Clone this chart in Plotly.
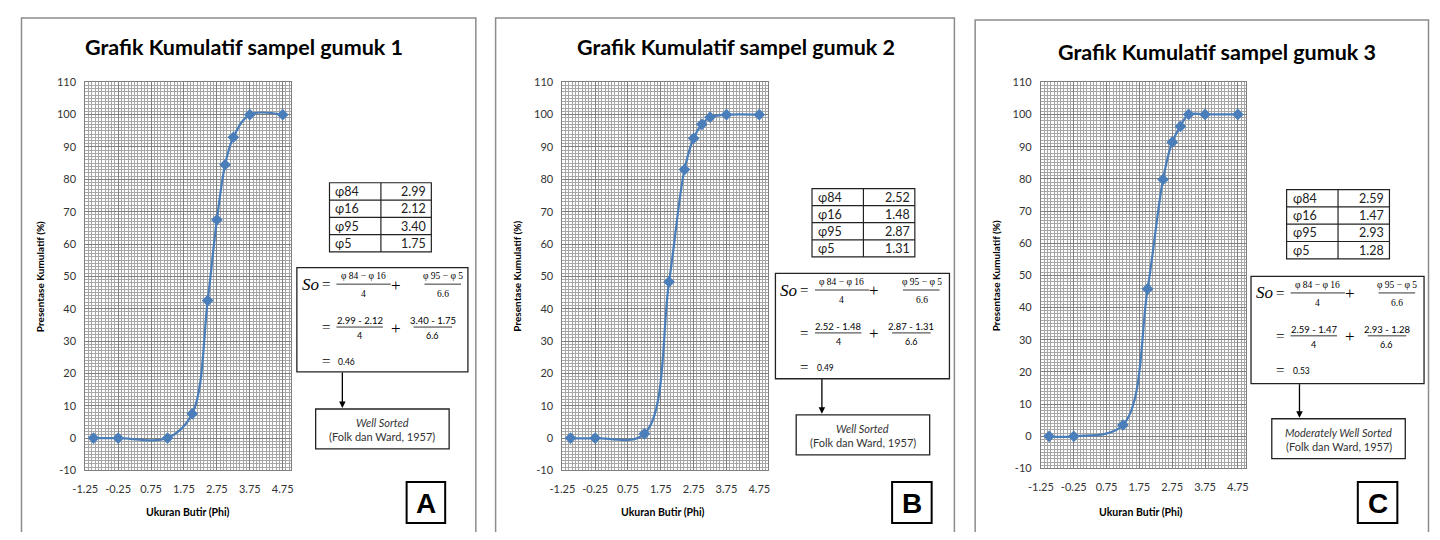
import plotly.graph_objects as go

# ---------------- data ----------------
phi = [-1.0, -0.25, 1.25, 2.0, 2.47, 2.75, 3.0, 3.25, 3.75, 4.75]
cum_1 = [0, 0, 0, 7.5, 42.5, 67.5, 84.5, 93.0, 100, 100]
cum_2 = [0, 0, 1.3, 48.3, 83.0, 92.7, 97.0, 99.2, 100, 100]
cum_3 = [0, 0, 3.5, 45.8, 79.8, 91.4, 96.3, 100, 100, 100]
series = [cum_1, cum_2, cum_3]

titles = ["Grafik Kumulatif sampel gumuk 1",
          "Grafik Kumulatif sampel gumuk 2",
          "Grafik Kumulatif sampel gumuk 3"]
x_ticks = [-1.25, -0.25, 0.75, 1.75, 2.75, 3.75, 4.75]
y_ticks = [-10, 0, 10, 20, 30, 40, 50, 60, 70, 80, 90, 100, 110]
x_title = "Ukuran Butir (Phi)"
y_title = "Presentase Kumulatif (%)"

param_labels = ["ɸ84", "ɸ16", "ɸ95", "ɸ5"]
params_1 = [2.99, 2.12, 3.40, 1.75]
params_2 = [2.52, 1.48, 2.87, 1.31]
params_3 = [2.59, 1.47, 2.93, 1.28]
params = [params_1, params_2, params_3]
so_values = [0.46, 0.49, 0.53]
sorting = ["Well Sorted", "Well Sorted", "Moderately Well Sorted"]
reference = "(Folk dan Ward, 1957)"
letters = ["A", "B", "C"]

# ---------------- layout geometry (page pixels) ----------------
# page is 1440x540; the figure sits inside the default 8px body margin
OFF = 8
W, H = 1440 - 2 * OFF, 540 - 2 * OFF
def X(p):
    return (p - OFF) / W
def Y(p):
    return 1 - (p - OFF) / H

geom = [
    dict(border=(8.5, 11, 468), title=(234, 41), plot=(73, 281, 77, 475), ytx=28, xt=(177, 518),
         table=(320, 180, 423, 251, 372), fbox=(287, 267, 460, 374), arrow=(333, 374, 411),
         sbox=(306, 412, 441, 453), lbox=(398, 487, 437, 529)),
    dict(border=(488, 11, 952), title=(731, 41), plot=(555.5, 763, 77, 475), ytx=510, xt=(657, 518),
         table=(808, 186, 912, 256, 860), fbox=(771, 273, 947, 381), arrow=(818, 381, 417),
         sbox=(792, 418, 927, 459), lbox=(889, 487, 929, 529)),
    dict(border=(973, 13, 1431.5), title=(1218, 46), plot=(1039.5, 1247, 77, 473), ytx=994, xt=(1141, 518),
         table=(1288, 187, 1392, 258, 1340), fbox=(1252, 276, 1427, 386), arrow=(1301, 386, 421),
         sbox=(1273, 422, 1408, 463), lbox=(1360, 487, 1400, 529)),
]

BLUE = "#4A7EBB"
MAJ = "#7f7f7f"
MIN = "#a6a6a6"
FONT = "Lato"
SERIF = "Liberation Serif"

fig = go.Figure()
shapes = []
anns = []

def ann(x, y, text, size, family=FONT, xanchor="center", yanchor="middle", color="black", angle=0):
    anns.append(dict(x=X(x), y=Y(y), xref="paper", yref="paper", text=text, showarrow=False,
                     xanchor=xanchor, yanchor=yanchor, textangle=angle,
                     font=dict(family=family, size=size, color=color)))

def rect(x0, y0, x1, y1, color="black", width=1):
    shapes.append(dict(type="rect", xref="paper", yref="paper", x0=X(x0), x1=X(x1), y0=Y(y1), y1=Y(y0),
                       line=dict(color=color, width=width), fillcolor="rgba(0,0,0,0)", layer="above"))

def hline(x0, x1, y, color="black", width=1):
    shapes.append(dict(type="line", xref="paper", yref="paper", x0=X(x0), x1=X(x1), y0=Y(y), y1=Y(y),
                       line=dict(color=color, width=width), layer="above"))

def vline(x, y0, y1, color="black", width=1):
    shapes.append(dict(type="line", xref="paper", yref="paper", x0=X(x), x1=X(x), y0=Y(y0), y1=Y(y1),
                       line=dict(color=color, width=width), layer="above"))

layout_axes = {}
for i in range(3):
    g = geom[i]
    suf = "" if i == 0 else str(i + 1)
    fig.add_trace(go.Scatter(
        x=phi, y=series[i], mode="lines+markers",
        line=dict(shape="spline", smoothing=1.0, color=BLUE, width=2.25),
        marker=dict(symbol="diamond", size=9, color=BLUE),
        xaxis="x" + suf, yaxis="y" + suf, showlegend=False, cliponaxis=False,
        hoverinfo="x+y"))
    px0, px1, py0, py1 = g["plot"]
    layout_axes["xaxis" + suf] = dict(
        domain=[X(px0), X(px1)], range=[-1.25, 5.0], anchor="y" + suf,
        tickmode="array", tickvals=x_ticks, ticktext=["%.2f" % v for v in x_ticks],
        showgrid=True, gridcolor=MAJ, gridwidth=1,
        minor=dict(tick0=-1.25, dtick=0.1, showgrid=True, gridcolor=MIN, gridwidth=1),
        showline=True, linecolor=MAJ, linewidth=1, mirror=True, zeroline=False,
        ticks="", ticklabelstandoff=8,
        tickfont=dict(family=FONT, size=11, color="#333333"), fixedrange=True)
    layout_axes["yaxis" + suf] = dict(
        domain=[Y(py1), Y(py0)], range=[-10, 110], anchor="x" + suf,
        tickmode="array", tickvals=y_ticks, ticktext=[str(v) for v in y_ticks],
        showgrid=True, gridcolor=MAJ, gridwidth=1,
        minor=dict(tick0=0, dtick=1, showgrid=True, gridcolor=MIN, gridwidth=1),
        showline=True, linecolor=MAJ, linewidth=1, mirror=True, zeroline=False,
        ticks="", ticklabelstandoff=6,
        tickfont=dict(family=FONT, size=11, color="#333333"), fixedrange=True)

    # panel border
    bx0, by0, bx1 = g["border"]
    shapes.append(dict(type="rect", xref="paper", yref="paper", x0=X(bx0), x1=X(bx1), y0=Y(560), y1=Y(by0),
                       line=dict(color="#8c8c8c", width=1.5), fillcolor="rgba(0,0,0,0)", layer="below"))
    # title
    ann(g["title"][0], g["title"][1], "<b>%s</b>" % titles[i], 21.5)
    # axis titles
    ann(g["ytx"], (py0 + py1) / 2, "<b>%s</b>" % y_title, 10, angle=-90)
    ann(g["xt"][0], g["xt"][1], "<b>%s</b>" % x_title, 10.5)

    # parameter table
    tx0, ty0, tx1, ty1, tdx = g["table"]
    rect(tx0, ty0, tx1, ty1, color="#222222", width=1.2)
    vline(tdx, ty0, ty1, color="#222222", width=1.2)
    rh = (ty1 - ty0) / 4
    for r in range(4):
        if r > 0:
            hline(tx0, tx1, ty0 + r * rh, color="#222222", width=1.2)
        cy = ty0 + (r + 0.5) * rh
        ann(tx0 + 4, cy, param_labels[r], 12.5, xanchor="left", color="#222222")
        ann(tx1 - 3, cy, "%.2f" % params[i][r], 12.5, xanchor="right", color="#222222")

    # formula box
    bl, bt, br, bb = g["fbox"]
    rect(bl, bt, br, bb, color="#222222", width=1.3)
    p84, p16, p95, p5 = params[i]
    r1 = bt + 17
    ann(bl + 3, r1, "<i>So</i>", 17, family=SERIF, xanchor="left")
    ann(bl + 29, r1, "=", 15, family=SERIF)
    ann(bl + 67, r1 - 8, "φ 84 − φ 16", 9.5, family=SERIF)
    hline(bl + 40, bl + 95, r1, width=0.8)
    ann(bl + 67, r1 + 10, "4", 9.5, family=SERIF)
    ann(bl + 100, r1 + 1, "+", 17, family=SERIF)
    ann(bl + 148, r1 - 8, "φ 95 − φ 5", 9.5, family=SERIF)
    hline(bl + 129, bl + 166, r1, width=0.8)
    ann(bl + 148, r1 + 10, "6.6", 9.5, family=SERIF)

    r2 = bt + 61
    ann(bl + 29, r2, "=", 15, family=SERIF)
    ann(bl + 63.5, r2 - 7, "%.2f - %.2f" % (p84, p16), 9.5)
    hline(bl + 40, bl + 87, r2, width=0.8)
    ann(bl + 63.5, r2 + 9, "4", 9)
    ann(bl + 100, r2 + 1, "+", 17, family=SERIF)
    ann(bl + 137.5, r2 - 7, "%.2f - %.2f" % (p95, p5), 9.5)
    hline(bl + 118, bl + 157, r2, width=0.8)
    ann(bl + 137.5, r2 + 9, "6.6", 9)

    r3 = bt + 96
    ann(bl + 29, r3, "=", 15, family=SERIF)
    ann(bl + 40, r3 + 1, "%.2f" % so_values[i], 8.5, xanchor="left")

    # arrow
    ax_, a0, a1 = g["arrow"]
    anns.append(dict(x=X(ax_), y=Y(a1), xref="paper", yref="paper", ax=0, ay=-(a1 - a0),
                     axref="pixel", ayref="pixel", text="", showarrow=True,
                     arrowhead=2, arrowsize=1, arrowwidth=1.3, arrowcolor="black"))

    # sorting box
    sx0, sy0, sx1, sy1 = g["sbox"]
    rect(sx0, sy0, sx1, sy1, color="#222222", width=1.3)
    ann((sx0 + sx1) / 2, sy0 + 14, "<i>%s</i>" % sorting[i], 11, color="#333333")
    ann((sx0 + sx1) / 2, sy0 + 28.5, reference, 11, color="#333333")

    # letter box
    lx0, ly0, lx1, ly1 = g["lbox"]
    rect(lx0, ly0, lx1, ly1, color="black", width=2)
    ann((lx0 + lx1) / 2, (ly0 + ly1) / 2 + 1, "<b>%s</b>" % letters[i], 28, family="Liberation Sans")

fig.update_layout(
    width=W, height=H, margin=dict(l=0, r=0, t=0, b=0),
    paper_bgcolor="white", plot_bgcolor="white",
    shapes=shapes, annotations=anns, showlegend=False,
    **layout_axes)

fig.write_html("out.html", config={"displayModeBar": False})
